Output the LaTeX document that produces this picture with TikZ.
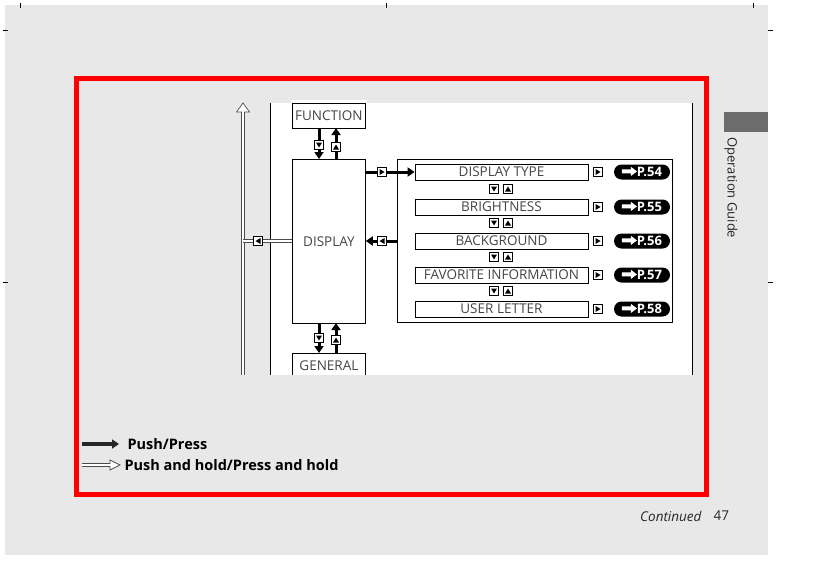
\documentclass[tikz,border=0pt]{standalone}
\usepackage{fontspec}
\setmainfont{Open Sans}
\usetikzlibrary{arrows.meta}
\definecolor{pagegray}{RGB}{232,232,232}
\definecolor{txtgray}{RGB}{70,70,70}
\tikzset{
 box/.style={draw=black,line width=0.8pt,fill=white,inner sep=0pt,font=\fontsize{13.5}{15}\selectfont,text=txtgray},
 item/.style={box,minimum width=173pt,minimum height=16pt},
 key/.style={draw=black,line width=0.6pt,fill=white,minimum size=9pt,inner sep=0pt},
 pill/.style={fill=black,rounded corners=7.5pt,minimum width=56pt,minimum height=15pt,inner sep=0pt,text=white,font=\bfseries\fontsize{13}{14}\selectfont},
 thick arr/.style={line width=3pt,-{Triangle[length=7pt,width=9pt]}},
 hollow/.style={double=white,draw=gray!60!black,double distance=2.4pt,line width=0.7pt},
}
\newcommand\dn{\tikz[x=1pt,y=1pt,sharp corners]\fill(0,5)--(6,5)--(3,0)--cycle;}
\newcommand\up{\tikz[x=1pt,y=1pt,sharp corners]\fill(0,0)--(6,0)--(3,5)--cycle;}
\newcommand\rt{\tikz[x=1pt,y=1pt,sharp corners]\fill(0,0)--(0,6)--(5,3)--cycle;}
\newcommand\lt{\tikz[x=1pt,y=1pt,sharp corners]\fill(5,0)--(5,6)--(0,3)--cycle;}
\newcommand\parrow{\tikz[x=1pt,y=1pt,sharp corners,baseline=-1pt]\fill[white](0,2.5)--(9,2.5)--(9,0)--(15,4.5)--(9,9)--(9,6.5)--(0,6.5)--cycle;}
\begin{document}
\begin{tikzpicture}[x=1pt,y=-1pt]
\useasboundingbox (0,0) rectangle (813,565);
\fill[white] (0,0) rectangle (813,565);
\fill[pagegray] (5,5) rectangle (768,555);
\draw[line width=0.5pt] (20,3)--(20,8) (386,3)--(386,8) (753,3)--(753,8) (3,30)--(8,30) (768,30)--(773,30) (3,282)--(8,282) (768,282)--(773,282);
\fill[gray!85!black] (724,112) rectangle (768,132);
\node[rotate=-90,anchor=west,font=\fontsize{13}{14}\selectfont,text=black!85] (og) at (731,134) {Operation Guide};
\node[anchor=east,font=\itshape\fontsize{13.5}{15}\selectfont,text=black!85] (cont) at (705,516) {Continued};
\node[anchor=west,font=\fontsize{13.5}{15}\selectfont,text=black!85] (pg) at (710,516) {47};
\draw[red,line width=5pt] (76,78) rectangle (706,494);
\fill[white] (270,103) rectangle (692,375);
\draw[line width=0.8pt] (270,103)--(270,375) (692,103)--(692,375);
\node[box,anchor=north west,minimum width=73pt,minimum height=25pt] (func) at (292,103) {FUNCTION};
\fill[white] (291,100) rectangle (367,103.4);
\node[box,anchor=north west,minimum width=73pt,minimum height=164pt] (disp) at (292,159) {DISPLAY};
\node[box,anchor=north west,minimum width=73pt,minimum height=24pt] (gen) at (292,353) {GENERAL};
\fill[pagegray] (291,375) rectangle (367,378);
\coordinate (f1) at (319,128); \coordinate (d1) at (319,159);
\coordinate (f2) at (336,128); \coordinate (d2) at (336,159);
\draw[thick arr] (f1)--(d1);
\draw[thick arr] (d2)--(f2);
\node[key] (kd1) at (319,145) {\dn};
\node[key] (ku1) at (336,147) {\up};
\coordinate (g1) at (319,353); \coordinate (e1) at (319,323);
\coordinate (g2) at (336,353); \coordinate (e2) at (336,323);
\draw[thick arr] (e1)--(g1);
\draw[thick arr] (g2)--(e2);
\node[key] (kd2) at (319,338) {\dn};
\node[key] (ku2) at (336,340) {\up};
\draw[line width=0.8pt,fill=white] (397,159) rectangle (672,322);
\coordinate (lst) at (397,241);
\foreach \y/\t/\p [count=\i] in {172/DISPLAY TYPE/54,207/BRIGHTNESS/55,241/BACKGROUND/56,275/FAVORITE INFORMATION/57,309/USER LETTER/58}{
  \node[item] (it\i) at (501.5,\y) {\t};
  \node[key] (kr\i) at (598,\y) {\rt};
  \node[pill] (pp\i) at (642,\y) {\parrow P.\p};
}
\foreach \y in {189,223,257,291}{
  \node[key] at (494,\y) {\dn};
  \node[key] at (508,\y) {\up};
}
\draw[thick arr] (disp.east|-it1) -- (it1.west);
\node[key] (kr0) at (382,172) {\rt};
\draw[thick arr] (lst) -- (disp.east|-lst);
\node[key] (kl0) at (382,241) {\lt};
\coordinate (vb) at (243,375); \coordinate (vt) at (243,112);
\draw[hollow] (vb)--(vt);
\draw[hollow] (disp.west|-lst) -- (243,241);
\fill[white] (241.5,240) rectangle (244.5,242.4);
\draw[gray!60!black,line width=0.7pt,fill=white] (243,103)--(236.5,112)--(249.5,112)--cycle;
\fill[white] (241.6,111) rectangle (244.4,113);
\node[key] (kl1) at (258,241) {\lt};
\coordinate (la1) at (82,444); \coordinate (la2) at (119,444);
\draw[line width=3.5pt,-{Triangle[length=7pt,width=9pt]},black!85] (la1)--(la2);
\node[anchor=west,font=\bfseries\fontsize{14.5}{16}\selectfont] (l1) at (124,444) {Push/Press};
\coordinate (lb1) at (82,465); \coordinate (lb2) at (111,465);
\draw[hollow] (lb1)--(lb2);
\draw[gray!60!black,line width=0.7pt,fill=white] (120,465)--(110,460)--(110,470)--cycle;
\fill[white] (109,463.6) rectangle (111.2,466.4);
\node[anchor=west,font=\bfseries\fontsize{14.5}{16}\selectfont] (l2) at (121,465) {Push and hold/Press and hold};
\end{tikzpicture}
\end{document}
